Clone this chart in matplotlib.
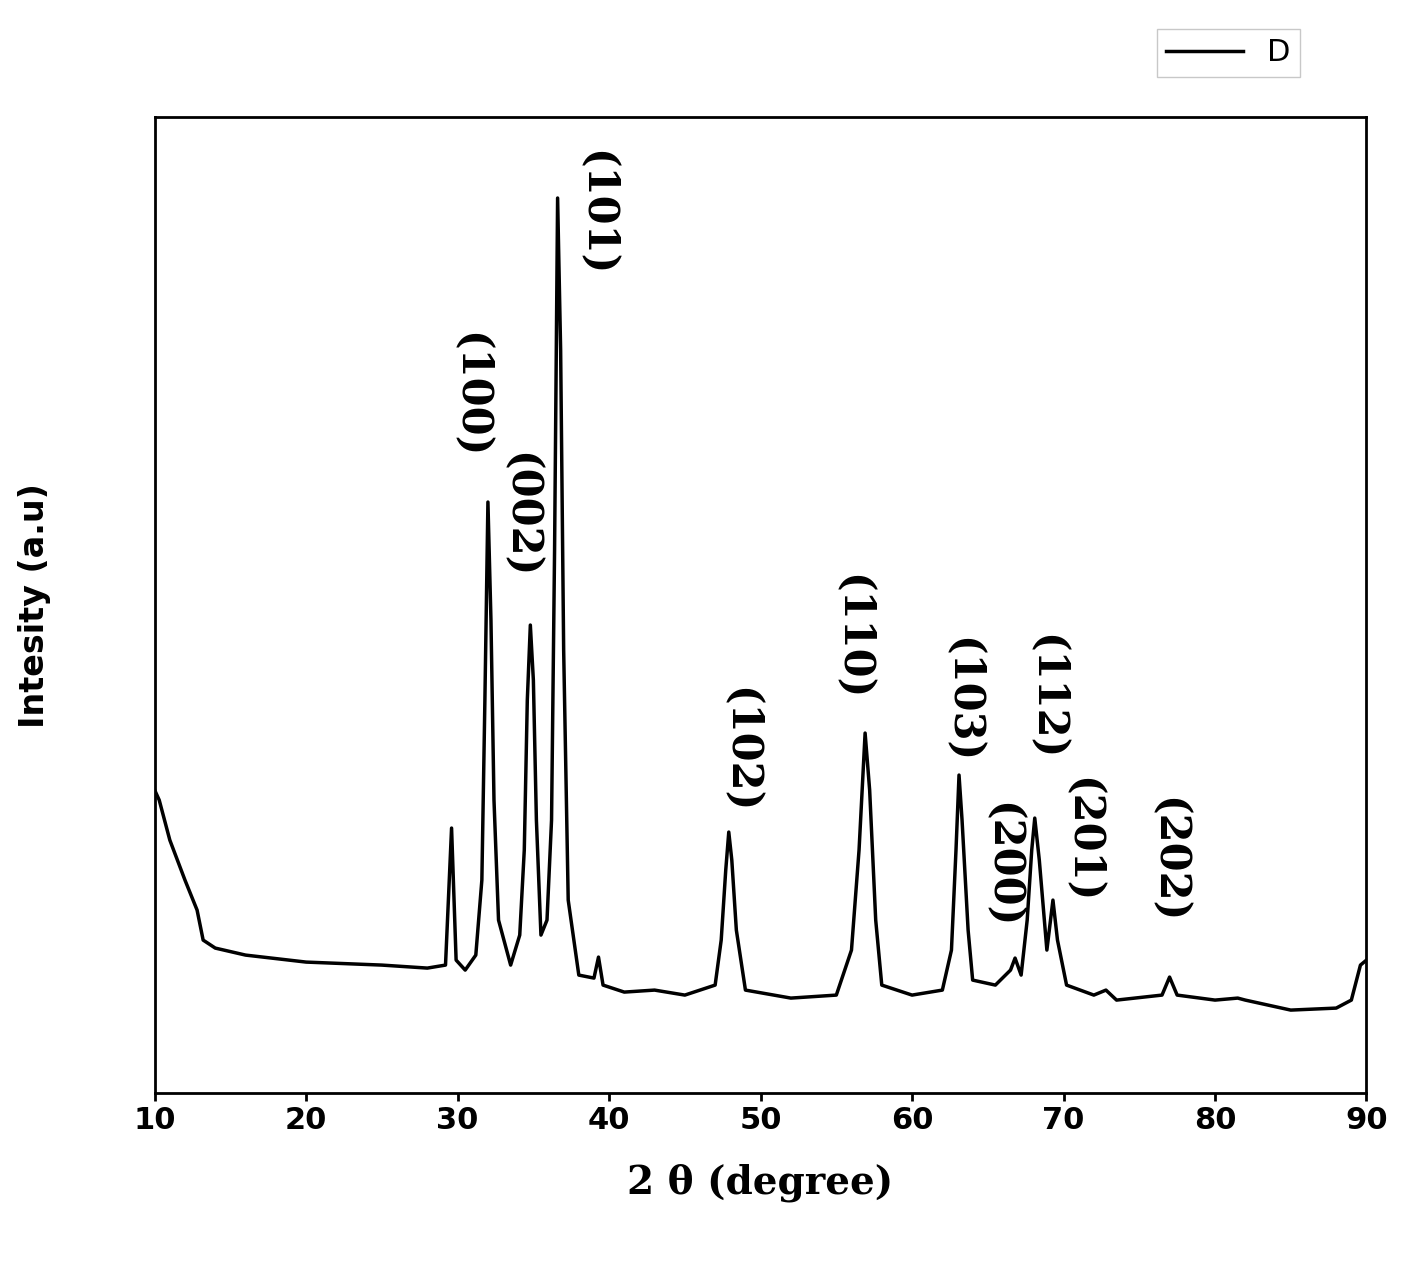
import matplotlib.pyplot as plt
import numpy as np

# trace: 2theta and intensity (a.u., 0 = axis bottom)
two_theta = [10.0, 10.3, 11, 12, 12.8, 13.2, 14, 16, 20, 25, 28, 29.2, 29.6, 29.9, 30.5,
             31.2, 31.6, 31.8, 32.0, 32.2, 32.4, 32.7, 33.5, 34.1, 34.4, 34.6, 34.8, 35.0,
             35.2, 35.5, 35.9, 36.2, 36.4, 36.6, 36.8, 37.0, 37.3, 38, 39, 39.3, 39.6, 41,
             43, 45, 47, 47.4, 47.7, 47.9, 48.1, 48.4, 49,
             52, 55, 56.0, 56.5, 56.9, 57.2, 57.6, 58, 60, 62, 62.6, 62.9, 63.1, 63.3, 63.7,
             64, 65.5, 66.5, 66.8,
             67.2, 67.6, 67.9, 68.1, 68.4, 68.9, 69.3, 69.6, 70.2, 72, 72.8, 73.5, 76.5, 77.0,
             77.5, 80, 81.5, 82, 85, 88, 89, 89.6, 90]
pix_y = [790, 800, 840, 880, 910, 940, 948, 955, 962, 965, 968, 965, 828, 960, 970,
         955, 880, 700, 502, 620, 800, 920, 965, 935, 850, 700, 625, 680,
         820, 935, 920, 820, 550, 198, 350, 650, 900, 975, 978, 957, 985, 992,
         990, 995, 985, 940, 870, 832, 860, 930, 990,
         998, 995, 950, 850, 733, 790, 920, 985, 995, 990, 950, 850, 775, 820, 930,
         980, 985, 970, 958,
         975, 920, 850, 818, 860, 950, 900, 940, 985, 995, 990, 1000, 995, 977,
         995, 1000, 998, 1000, 1010, 1008, 1000, 965, 960]
intensity = [1093 - p for p in pix_y]

peak_labels = ["(101)", "(100)", "(002)", "(102)", "(110)", "(103)", "(200)", "(112)", "(201)", "(202)"]
label_x = [39.1, 30.8, 34.1, 48.6, 56.0, 63.3, 65.9, 68.8, 71.2, 76.9]
label_y = [1093 - p for p in [213, 395, 515, 750, 637, 700, 865, 697, 840, 860]]

fig = plt.figure(figsize=(14.19, 12.86), dpi=100)
ax = fig.add_axes([0.109, 0.150, 0.854, 0.759])
ax.plot(two_theta, intensity, color='black', lw=2.5, label='D')

for lab, x, y in zip(peak_labels, label_x, label_y):
    ax.text(x, y, lab, rotation=270, ha='center', va='center',
            fontsize=30, fontweight='bold', family='DejaVu Serif')

ax.set_xlim(10, 90)
ax.set_ylim(0, 976)
ax.set_xticks(np.arange(10, 91, 10))
ax.set_yticks([])
ax.tick_params(axis='x', labelsize=22, width=2, length=6)
for lab in ax.get_xticklabels():
    lab.set_fontweight('bold')
for s in ax.spines.values():
    s.set_linewidth(2)

ax.set_xlabel('2 \u03b8 (degree)', fontsize=28, fontweight='bold', family='DejaVu Serif', labelpad=20)
ax.set_ylabel('Intesity (a.u)', fontsize=24, fontweight='bold', labelpad=75)
ax.legend(loc='upper right', bbox_to_anchor=(1315 / 1419, 1 - 14 / 1286),
          bbox_transform=fig.transFigure, fontsize=22, borderpad=0.3,
          fancybox=False, edgecolor='#bbbbbb', handlelength=2.5)

fig.savefig('out.png', dpi=100)
